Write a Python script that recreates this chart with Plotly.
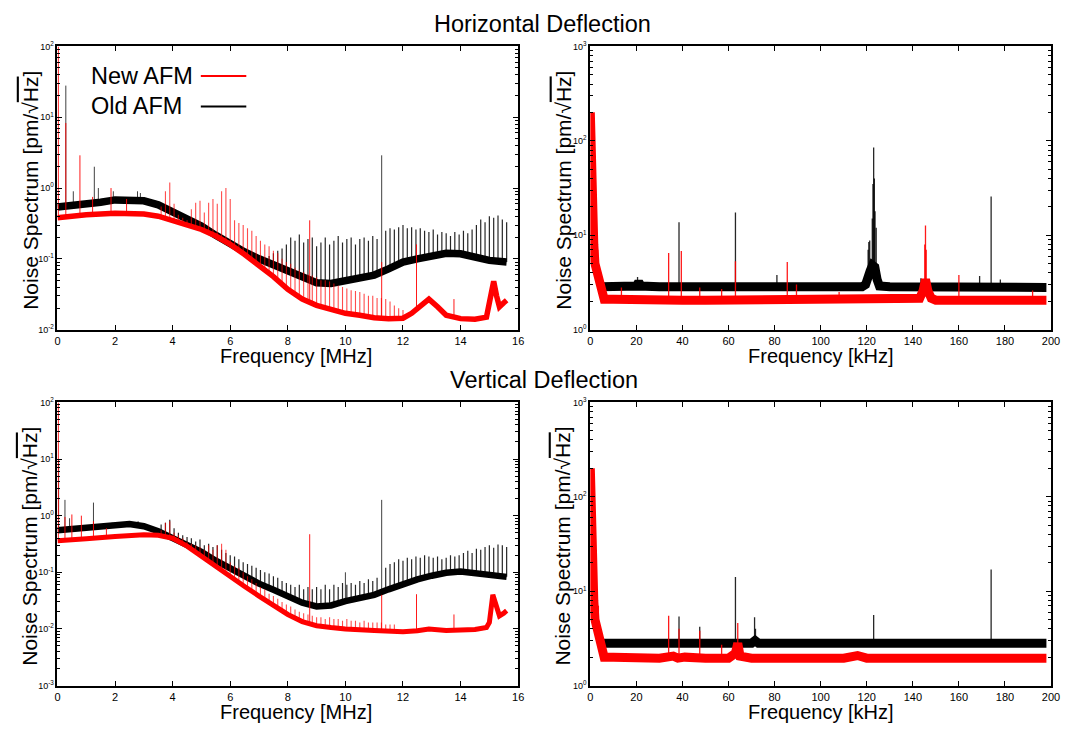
import numpy as np
import plotly.graph_objects as go

W, H = 1070, 731          # browser window
PAD = 8                   # default body margin of the html page
FW, FH = W - 2 * PAD, H - 2 * PAD
FONT = "Arial, 'Liberation Sans', sans-serif"
RED = "#ff0000"
BLACK = "#000000"

# ================= DATA =================
# ---- Horizontal deflection, MHz range ----
hm_old_f = [0, 0.5, 1, 1.5, 2, 2.5, 3, 3.5, 4, 4.5, 5, 5.5, 6, 6.5, 7, 7.5, 8, 8.5, 9, 9.5,
            10, 10.5, 11, 11.5, 12, 12.5, 13, 13.5, 14, 14.5, 15, 15.6]
hm_old_v = [0.54, 0.56, 0.58, 0.63, 0.68, 0.69, 0.66, 0.58, 0.47, 0.37, 0.29, 0.215, 0.16, 0.125,
            0.10, 0.082, 0.068, 0.056, 0.046, 0.045, 0.049, 0.053, 0.059, 0.072, 0.09, 0.10,
            0.11, 0.12, 0.118, 0.105, 0.095, 0.09]
hm_new_f = [0, 0.5, 1, 2, 3, 3.5, 4, 4.5, 5, 5.5, 6, 6.5, 7, 7.5, 8, 8.5, 9, 9.5, 10, 10.5, 11,
            11.5, 12, 12.3, 12.6, 12.9, 13.2, 13.5, 14, 14.5, 14.9, 15.05, 15.15, 15.25, 15.35,
            15.5, 15.6]
hm_new_v = [0.38, 0.40, 0.42, 0.44, 0.43, 0.40, 0.35, 0.30, 0.26, 0.21, 0.16, 0.115, 0.082,
            0.056, 0.037, 0.027, 0.022, 0.019, 0.017, 0.016, 0.0147, 0.0142, 0.0145, 0.017,
            0.022, 0.027, 0.021, 0.016, 0.0143, 0.014, 0.015, 0.03, 0.048, 0.03, 0.021, 0.024,
            0.026]
hm_old_spk_f = [0.29, 0.55, 1.28, 1.42, 1.94, 2.78, 2.88, 11.26]
hm_old_spk_v = [28, 0.9, 2.0, 1.0, 0.9, 0.9, 0.85, 2.9]
hm_new_spk_f = [0.03, 0.29, 0.78, 1.22, 1.86, 2.4, 8.76, 11.26, 12.47, 13.77]
hm_new_spk_v = [100, 8.3, 2.9, 0.75, 1.0, 0.7, 0.35, 0.09, 0.16, 0.027]
hm_new_comb_f = [3.60, 3.75, 3.90, 4.05, 4.20, 4.35, 4.50, 4.65, 4.80, 4.95, 5.10, 5.25, 5.40,
                 5.55, 5.70, 5.85, 6.00, 6.15, 6.30, 6.45, 6.60, 6.75, 6.90, 7.05, 7.20, 7.35,
                 7.50, 7.65, 7.80, 7.95, 8.10, 8.25, 8.40, 8.55, 8.70, 8.85, 9.00, 9.15, 9.30,
                 9.45, 9.60, 9.75, 9.90, 10.05, 10.20, 10.35, 10.50, 10.65, 10.80, 10.95, 11.10,
                 11.25, 11.40, 11.55, 11.70, 11.85, 12.00]
hm_new_comb_v = [0.55, 0.9, 1.2, 0.6, 0.42, 0.38, 0.35, 0.5, 0.62, 0.66, 0.45, 0.62, 0.7, 0.6,
                 0.9, 1.0, 0.7, 0.35, 0.32, 0.3, 0.27, 0.25, 0.21, 0.18, 0.16, 0.15, 0.13, 0.12,
                 0.1, 0.09, 0.085, 0.075, 0.07, 0.065, 0.06, 0.058, 0.055, 0.05, 0.05, 0.048,
                 0.045, 0.042, 0.04, 0.038, 0.036, 0.035, 0.034, 0.032, 0.03, 0.03, 0.028, 0.028,
                 0.027, 0.025, 0.022, 0.02, 0.019]
hm_old_comb_f = [7.20, 7.35, 7.50, 7.65, 7.80, 7.95, 8.10, 8.25, 8.40, 8.55, 8.70, 8.85, 9.00,
                 9.15, 9.30, 9.45, 9.60, 9.75, 9.90, 10.05, 10.20, 10.35, 10.50, 10.65, 10.80,
                 10.95, 11.10, 11.40, 11.55, 11.70, 11.85, 12.00, 12.15, 12.30, 12.45, 12.60,
                 12.75, 12.90, 13.05, 13.20, 13.35, 13.50, 13.65, 13.80, 13.95, 14.10, 14.25,
                 14.40, 14.55, 14.70, 14.85, 15.00, 15.15, 15.30, 15.45, 15.60]
hm_old_comb_v = [0.1, 0.11, 0.12, 0.13, 0.14, 0.16, 0.2, 0.18, 0.22, 0.17, 0.19, 0.2, 0.15, 0.17,
                 0.2, 0.16, 0.18, 0.21, 0.17, 0.19, 0.2, 0.16, 0.19, 0.2, 0.18, 0.21, 0.19, 0.25,
                 0.27, 0.26, 0.28, 0.3, 0.27, 0.28, 0.26, 0.27, 0.25, 0.24, 0.26, 0.22, 0.24,
                 0.23, 0.21, 0.24, 0.22, 0.25, 0.23, 0.26, 0.3, 0.36, 0.33, 0.4, 0.38, 0.41, 0.36,
                 0.33]

# ---- Horizontal deflection, kHz range ----
hk_old_f = [4.5, 10, 20, 21, 22, 30, 40, 50, 60, 70, 80, 90, 100, 110, 118, 119.5, 120.5, 121.5,
            122.5, 123.5, 124.5, 125.5, 130, 140, 150, 160, 170, 180, 190, 198]
hk_old_v = [2.85, 2.85, 2.9, 3.2, 2.9, 2.85, 2.85, 2.85, 2.8, 2.85, 2.85, 2.8, 2.8, 2.8, 2.85,
            3.0, 3.8, 4.2, 4.8, 4.6, 3.4, 2.9, 2.85, 2.85, 2.8, 2.8, 2.85, 2.85, 2.8, 2.8]
hk_new_f = [0, 0.3, 0.6, 1, 1.5, 2, 2.5, 3, 3.5, 4, 4.5, 5, 6, 10, 20, 30, 40, 50, 60, 70, 80,
            90, 100, 110, 120, 130, 140, 143, 144.5, 145.5, 146.5, 148, 150, 160, 170, 180, 190,
            198]
hk_new_v = [200, 60, 25, 12, 8, 5, 4.5, 4, 3.5, 3.2, 2.8, 2.3, 2.1, 2.1, 2.05, 2.05, 2.05, 2.05,
            2.05, 2.05, 2.05, 2.1, 2.05, 2.05, 2.05, 2.05, 2.05, 2.15, 2.6, 3.4, 2.6, 2.15, 2.05,
            2.05, 2.05, 2.05, 2.05, 2.05]
hk_old_spk_f = [20.5, 38.5, 63.0, 81.0, 120.6, 120.9, 121.3, 122.4, 122.7, 123.0, 123.3, 123.6,
                124.1, 143.5, 169.0, 174.0, 178.0]
hk_old_spk_v = [3.6, 13.7, 17.4, 3.8, 7.0, 8.5, 8.8, 15, 35, 85, 40, 18, 12, 3.5, 3.7, 25.8, 3.4]
hk_new_spk_f = [3.2, 13.5, 34.0, 39.5, 47.5, 57.0, 63.0, 85.5, 89.5, 108, 145.2, 145.5, 145.8,
                160.0, 192]
hk_new_spk_v = [7.0, 2.8, 6.5, 6.8, 2.8, 2.7, 5.3, 5.2, 3.0, 2.5, 8.0, 12.7, 7.0, 3.8, 2.6]

# ---- Vertical deflection, MHz range ----
vm_old_f = [0, 0.5, 1, 1.5, 2, 2.5, 3, 3.5, 4, 4.5, 5, 5.5, 6, 6.5, 7, 7.5, 8, 8.5, 9, 9.5,
            10, 10.5, 11, 11.5, 12, 12.5, 13, 13.5, 14, 14.5, 15, 15.6]
vm_old_v = [0.55, 0.58, 0.62, 0.66, 0.70, 0.71, 0.65, 0.53, 0.40, 0.30, 0.23, 0.16, 0.115, 0.085,
            0.063, 0.049, 0.037, 0.029, 0.025, 0.026, 0.031, 0.035, 0.040, 0.05, 0.063, 0.075,
            0.087, 0.098, 0.103, 0.098, 0.09, 0.083]
vm_new_f = [0, 0.5, 1, 2, 3, 3.5, 4, 4.5, 5, 5.5, 6, 6.5, 7, 7.5, 8, 8.5, 9, 9.5, 10, 11, 12,
            12.5, 12.9, 13.5, 14, 14.5, 14.9, 15.0, 15.12, 15.25, 15.35, 15.5, 15.6]
vm_new_v = [0.36, 0.37, 0.39, 0.43, 0.46, 0.45, 0.40, 0.29, 0.19, 0.125, 0.083, 0.056, 0.038,
            0.026, 0.018, 0.0135, 0.0114, 0.0106, 0.0100, 0.0094, 0.0089, 0.0093, 0.0100,
            0.0094, 0.0095, 0.0098, 0.0106, 0.013, 0.04, 0.022, 0.017, 0.019, 0.021]
vm_old_spk_f = [0.04, 0.26, 0.42, 1.25, 1.9, 2.8, 10.0, 11.26]
vm_old_spk_v = [10, 1.9, 0.9, 1.7, 0.75, 0.8, 0.1, 1.9]
vm_new_spk_f = [0.03, 0.26, 0.5, 0.83, 1.25, 1.7, 8.76, 11.26, 12.47, 13.77]
vm_new_spk_v = [100, 0.95, 1.05, 1.0, 0.8, 0.6, 0.47, 0.04, 0.041, 0.018]
vm_old_comb_f = [3.60, 3.75, 3.90, 4.05, 4.20, 4.35, 4.50, 4.65, 4.80, 4.95, 5.10, 5.25, 5.40,
                 5.55, 5.70, 5.85, 6.00, 6.15, 6.30, 6.45, 6.60, 6.75, 6.90, 7.05, 7.20, 7.35,
                 7.50, 7.65, 7.80, 7.95, 8.10, 8.25, 8.40, 8.55, 8.70, 8.85, 9.00, 9.15, 9.30,
                 9.45, 9.60, 9.75, 9.90, 10.05, 10.20, 10.35, 10.50, 10.65, 10.80, 10.95, 11.10,
                 11.40, 11.55, 11.70, 11.85, 12.00, 12.15, 12.30, 12.45, 12.60, 12.75, 12.90,
                 13.05, 13.20, 13.35, 13.50, 13.65, 13.80, 13.95, 14.10, 14.25, 14.40, 14.55,
                 14.70, 14.85, 15.00, 15.15, 15.30, 15.45, 15.60]
vm_old_comb_v = [0.7, 0.75, 0.85, 0.6, 0.5, 0.45, 0.42, 0.4, 0.35, 0.38, 0.3, 0.32, 0.28, 0.3,
                 0.25, 0.22, 0.2, 0.19, 0.17, 0.15, 0.14, 0.13, 0.12, 0.11, 0.1, 0.095, 0.085,
                 0.08, 0.07, 0.065, 0.06, 0.055, 0.06, 0.05, 0.055, 0.05, 0.055, 0.05, 0.06,
                 0.05, 0.06, 0.055, 0.065, 0.06, 0.065, 0.06, 0.07, 0.065, 0.075, 0.07, 0.08,
                 0.12, 0.14, 0.15, 0.17, 0.16, 0.18, 0.17, 0.19, 0.18, 0.2, 0.19, 0.18, 0.19,
                 0.17, 0.18, 0.2, 0.19, 0.2, 0.22, 0.24, 0.22, 0.26, 0.25, 0.28, 0.3, 0.27, 0.31,
                 0.3, 0.28]
vm_new_comb_f = [3.60, 3.75, 3.90, 4.05, 4.20, 4.35, 4.50, 4.65, 4.80, 4.95, 5.10, 5.25, 5.40,
                 5.55, 5.70, 5.85, 6.00, 6.15, 6.30, 6.45, 6.60, 6.75, 6.90, 7.05, 7.20, 7.35,
                 7.50, 7.65, 7.80, 7.95, 8.10, 8.25, 8.40, 8.55, 8.70, 8.85, 9.00, 9.15, 9.30,
                 9.45, 9.60, 9.75, 9.90, 10.05, 10.20, 10.35, 10.50, 10.65, 10.80, 10.95, 11.10,
                 11.25, 11.40, 11.55, 11.70]
vm_new_comb_v = [0.55, 0.75, 0.8, 0.5, 0.45, 0.4, 0.35, 0.32, 0.3, 0.28, 0.25, 0.3, 0.25, 0.3,
                 0.32, 0.25, 0.15, 0.13, 0.12, 0.1, 0.085, 0.075, 0.065, 0.055, 0.05, 0.042,
                 0.038, 0.034, 0.03, 0.027, 0.025, 0.022, 0.02, 0.019, 0.018, 0.017, 0.016,
                 0.016, 0.015, 0.016, 0.015, 0.015, 0.014, 0.015, 0.014, 0.014, 0.013, 0.014,
                 0.013, 0.013, 0.013, 0.013, 0.012, 0.012, 0.012]

# ---- Vertical deflection, kHz range ----
vk_old_f = [4.5, 10, 20, 30, 40, 50, 60, 70, 71.5, 73, 80, 90, 100, 110, 120, 130, 140, 150,
            160, 170, 180, 190, 198]
vk_old_v = [2.8, 2.8, 2.8, 2.8, 2.8, 2.8, 2.75, 2.8, 3.0, 2.8, 2.8, 2.8, 2.8, 2.8, 2.8, 2.8,
            2.8, 2.8, 2.75, 2.8, 2.8, 2.8, 2.8]
vk_new_f = [0, 0.3, 0.6, 1, 1.5, 2, 2.5, 3, 3.5, 4, 4.5, 5, 6, 10, 20, 30, 36, 38, 41, 45, 50,
            60, 63, 64, 65, 70, 80, 90, 98, 102, 110, 116, 118, 120, 130, 140, 150, 160, 170,
            180, 190, 198]
vk_new_v = [200, 60, 25, 12, 8, 5, 4.5, 4, 3.5, 3.0, 2.6, 2.2, 2.0, 2.0, 1.95, 1.95, 2.05, 1.95,
            2.0, 1.95, 1.95, 1.95, 2.2, 2.8, 2.05, 1.95, 1.95, 1.95, 2.02, 2.0, 1.95, 2.08, 2.05,
            1.95, 1.95, 1.95, 1.95, 1.95, 1.95, 1.95, 1.95, 1.95]
vk_old_spk_f = [38.5, 47.5, 63.0, 71.3, 71.7, 123.0, 174.0]
vk_old_spk_v = [5.4, 4.2, 14.1, 5.3, 4.0, 5.6, 17.0]
vk_new_spk_f = [3.5, 34.0, 38.5, 47.5, 57.0, 64.0]
vk_new_spk_v = [7.0, 5.5, 4.0, 3.8, 2.7, 4.6]

x_mhz_ticks = [0, 2, 4, 6, 8, 10, 12, 14, 16]
x_khz_ticks = [0, 20, 40, 60, 80, 100, 120, 140, 160, 180, 200]
legend_labels = ["New AFM", "Old AFM"]
panel_titles = ["Horizontal Deflection", "Vertical Deflection"]
x_titles = ["Frequency [MHz]", "Frequency [kHz]"]
y_title = "Noise Spectrum [pm/\u221a<span style='text-decoration:overline'>Hz</span>]"

# ================= FIGURE =================
fig = go.Figure()


def spike_xy(sf, sv, cf, cv):
    lc = np.log10(np.asarray(cv, dtype=float))
    xs, ys = [], []
    for f, v in zip(sf, sv):
        b = 10 ** np.interp(f, cf, lc)
        xs += [f, f, None]
        ys += [b, v, None]
    return xs, ys


def add_series(ax, f, v, color, band_w, spikes_list):
    xa, ya = ("x", "y") if ax == 1 else (f"x{ax}", f"y{ax}")
    fig.add_trace(go.Scatter(x=f, y=v, mode="lines", xaxis=xa, yaxis=ya,
                             line=dict(color=color, width=band_w), hoverinfo="skip",
                             showlegend=False))
    for (sf, sv, alpha, lw) in spikes_list:
        xs, ys = spike_xy(sf, sv, f, v)
        rgba = "rgba(255,0,0,%s)" % alpha if color == RED else "rgba(0,0,0,%s)" % alpha
        fig.add_trace(go.Scatter(x=xs, y=ys, mode="lines", xaxis=xa, yaxis=ya,
                                 line=dict(color=rgba, width=lw), hoverinfo="skip",
                                 showlegend=False, connectgaps=False))


# panel 1: top-left, 2: top-right, 3: bottom-left, 4: bottom-right
add_series(1, hm_old_f, hm_old_v, BLACK, 7.5, [(hm_old_comb_f, hm_old_comb_v, 0.85, 1.2),
                                                (hm_old_spk_f, hm_old_spk_v, 0.75, 1)])
add_series(1, hm_new_f, hm_new_v, RED, 5.5, [(hm_new_comb_f, hm_new_comb_v, 0.7, 1.1),
                                              (hm_new_spk_f, hm_new_spk_v, 0.9, 1)])
add_series(2, hk_old_f, hk_old_v, BLACK, 9, [(hk_old_spk_f, hk_old_spk_v, 0.85, 1.3)])
add_series(2, hk_new_f, hk_new_v, RED, 9, [(hk_new_spk_f, hk_new_spk_v, 0.9, 1.3)])
add_series(3, vm_old_f, vm_old_v, BLACK, 6.5, [(vm_old_comb_f, vm_old_comb_v, 0.85, 1.2),
                                                (vm_old_spk_f, vm_old_spk_v, 0.75, 1)])
add_series(3, vm_new_f, vm_new_v, RED, 5, [(vm_new_comb_f, vm_new_comb_v, 0.7, 1.1),
                                            (vm_new_spk_f, vm_new_spk_v, 0.9, 1)])
add_series(4, vk_old_f, vk_old_v, BLACK, 9, [(vk_old_spk_f, vk_old_spk_v, 0.85, 1.3)])
add_series(4, vk_new_f, vk_new_v, RED, 9, [(vk_new_spk_f, vk_new_spk_v, 0.9, 1.3)])


def px(x):
    return (x - PAD) / FW


def py(y):
    return 1 - (y - PAD) / FH


dom_x = {1: [px(55), px(521)], 2: [px(594), px(1060)], 3: [px(55), px(521)], 4: [px(594), px(1060)]}
dom_y = {1: [py(328), py(40)], 2: [py(328), py(40)], 3: [py(690), py(402)], 4: [py(690), py(402)]}
y_dec = {1: (-2, 2), 2: (0, 3), 3: (-3, 2), 4: (0, 3)}

axis_common = dict(showgrid=False, zeroline=False, showline=True, linecolor="black",
                   linewidth=1.8, mirror="allticks", ticks="inside", tickcolor="black",
                   tickwidth=1.3, ticklen=5)

for k in (1, 2, 3, 4):
    xs = "" if k == 1 else str(k)
    mhz = k in (1, 3)
    xticks = x_mhz_ticks if mhz else x_khz_ticks
    fig.layout["xaxis" + xs] = dict(
        axis_common, domain=dom_x[k], anchor="y" + xs,
        range=[0, 16] if mhz else [0, 200],
        tickvals=xticks, ticktext=[str(t) for t in xticks], ticklabeloverflow="allow",
        tickfont=dict(size=11, family=FONT, color="black"))
    lo, hi = y_dec[k]
    major = [10.0 ** e for e in range(lo, hi + 1)]
    minor = [m * 10.0 ** e for e in range(lo, hi) for m in range(2, 10)]
    fig.layout["yaxis" + xs] = dict(
        axis_common, domain=dom_y[k], anchor="x" + xs, type="log", range=[lo, hi],
        tickvals=major, ticktext=["10<sup>%d</sup>" % e for e in range(lo, hi + 1)],
        tickfont=dict(size=9, family=FONT, color="black"),
        minor=dict(tickvals=minor, ticks="inside", ticklen=3, tickcolor="black", tickwidth=1))

ann = []
ann.append(dict(text=panel_titles[0], x=px(546), y=py(17), font=dict(size=23.5)))
ann.append(dict(text=panel_titles[1], x=px(547), y=py(379), font=dict(size=23.5)))
for yc in (355, 717):
    ann.append(dict(text=x_titles[0], x=px(296), y=py(yc), font=dict(size=20)))
    ann.append(dict(text=x_titles[1], x=px(827), y=py(yc), font=dict(size=20)))
for xc in (27, 566):
    for yc in (186, 548):
        ann.append(dict(text=y_title, x=px(xc), y=py(yc), textangle=-90, font=dict(size=21)))
ann.append(dict(text=legend_labels[0], x=px(87), y=py(70), xanchor="left", font=dict(size=23.5)))
ann.append(dict(text=legend_labels[1], x=px(87), y=py(101), xanchor="left", font=dict(size=23.5)))
for a in ann:
    a.setdefault("xanchor", "center")
    a.update(xref="paper", yref="paper", yanchor="middle", showarrow=False)
    a["font"].update(family=FONT, color="black")

shapes = [
    dict(type="line", xref="paper", yref="paper", x0=px(200), x1=px(246), y0=py(70), y1=py(70),
         line=dict(color=RED, width=2)),
    dict(type="line", xref="paper", yref="paper", x0=px(200), x1=px(246), y0=py(101), y1=py(101),
         line=dict(color=BLACK, width=2)),
]

fig.update_layout(width=FW, height=FH, margin=dict(l=0, r=0, t=0, b=0),
                  paper_bgcolor="white", plot_bgcolor="white", showlegend=False,
                  annotations=ann, shapes=shapes, font=dict(family=FONT, color="black"),
                  hovermode=False)

fig.write_html("out.html", config={"displayModeBar": False})
